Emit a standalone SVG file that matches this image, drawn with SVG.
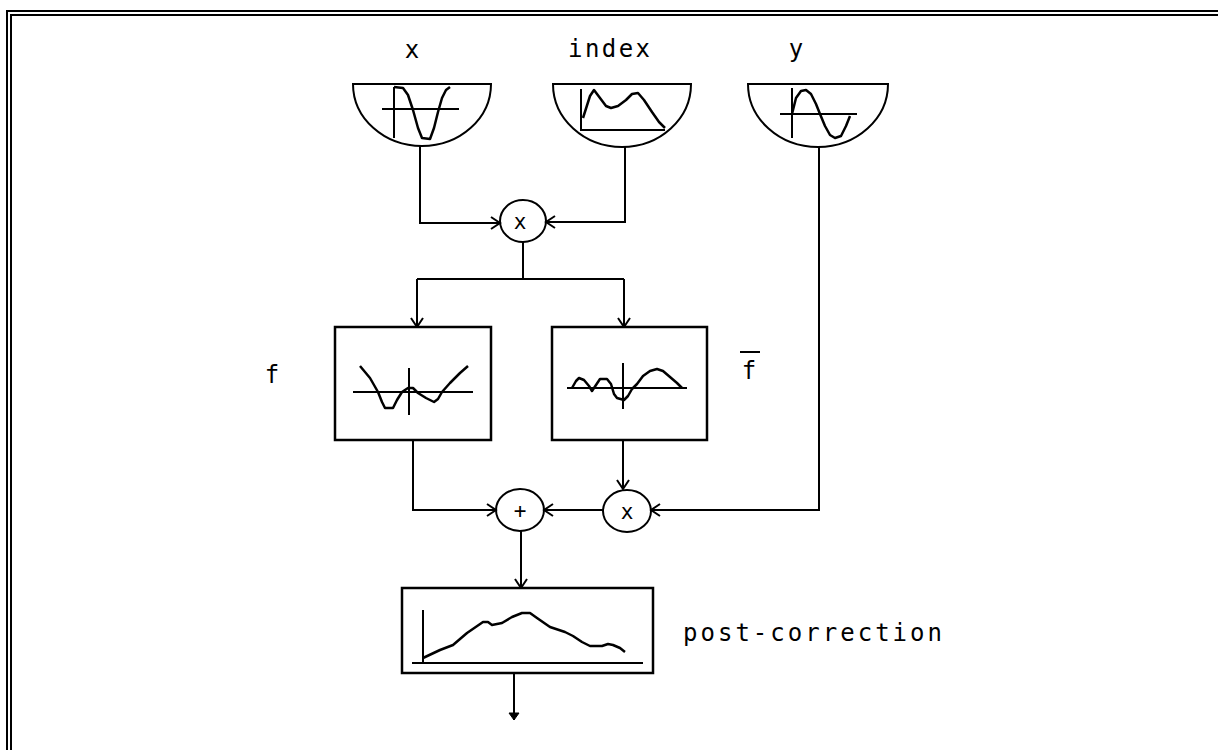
<svg xmlns="http://www.w3.org/2000/svg" width="1218" height="750" viewBox="0 0 1218 750">
<style>
.ln{fill:none;stroke:#000;stroke-width:2}
.thin{fill:none;stroke:#000;stroke-width:2.5;stroke-linejoin:round}
.box{fill:#fff;stroke:#000;stroke-width:2.5}
.lbl{font-family:"DejaVu Sans Mono","Liberation Mono",monospace;font-size:24px;fill:#000}
.op{font-family:"DejaVu Sans Mono","Liberation Mono",monospace;font-size:21px;fill:#000;text-anchor:middle}
</style>
<defs>
<marker id="arr" markerUnits="userSpaceOnUse" markerWidth="20" markerHeight="20" refX="0" refY="0" viewBox="-12 -10 14 20" orient="auto">
<path d="M-9,-6 L0,0 L-9,6" fill="none" stroke="#000" stroke-width="2"/>
</marker>
<marker id="sol" markerUnits="userSpaceOnUse" markerWidth="20" markerHeight="20" refX="0" refY="0" viewBox="-12 -10 14 20" orient="auto">
<path d="M-7,-5 L0,0 L-7,5 Z" fill="#000" stroke="#000" stroke-width="1"/>
</marker>
</defs>
<rect width="1218" height="750" fill="#fff"/>
<g id="frame">
<rect x="7" y="11" width="1230" height="760" class="ln"/>
<rect x="11" y="15" width="1230" height="760" class="ln"/>
</g>
<g id="connectors">
<path class="ln" d="M420,146 V223 H500" marker-end="url(#arr)"/>
<path class="ln" d="M625,147 V222 H546" marker-end="url(#arr)"/>
<path class="ln" d="M523,242 V279"/>
<path class="ln" d="M417,279 H624"/>
<path class="ln" d="M417,279 V327" marker-end="url(#arr)"/>
<path class="ln" d="M624,279 V327" marker-end="url(#arr)"/>
<path class="ln" d="M413,440 V510 H496" marker-end="url(#arr)"/>
<path class="ln" d="M623,440 V489" marker-end="url(#arr)"/>
<path class="ln" d="M819,147 V510 H651" marker-end="url(#arr)"/>
<path class="ln" d="M603,510 H544" marker-end="url(#arr)"/>
<path class="ln" d="M521,531 V588" marker-end="url(#arr)"/>
<path class="ln" d="M514,673 V720" marker-end="url(#sol)"/>
</g>
<g id="node-x">
<text class="lbl" x="412" y="58" text-anchor="middle">x</text>
<path class="ln" d="M353,84 H491 A69,62 0 0 1 353,84 Z"/>
<path class="ln" d="M394,87 V138 M382,109 H459"/>
<path class="thin" d="M394,87 L403,88 L408,95 L413,110 L418,128 L422,138 L430,139 L434,128 L438,112 L442,98 L446,90 L450,87"/>
</g>
<g id="node-index">
<text class="lbl" x="568" y="57" textLength="82" lengthAdjust="spacing">index</text>
<path class="ln" d="M553,84 H691 A69,63 0 0 1 553,84 Z"/>
<path class="ln" d="M581,89 V130 H665"/>
<path class="thin" d="M583,118 L590,96 L594,90 L600,98 L606,106 L611,108 L618,106 L626,100 L632,94 L638,93 L644,100 L652,112 L659,122 L665,128"/>
</g>
<g id="node-y">
<text class="lbl" x="796" y="57" text-anchor="middle">y</text>
<path class="ln" d="M748,84 H888 A70,63 0 0 1 748,84 Z"/>
<path class="ln" d="M792,88 V138 M780,114 H857"/>
<path class="thin" d="M792,114 L796,98 L801,91 L806,90 L811,94 L816,104 L820,114 L825,126 L830,135 L835,138 L841,136 L846,126 L850,116"/>
</g>
<g id="mul1">
<ellipse class="ln" cx="523" cy="221" rx="23" ry="21"/>
<text class="op" x="520" y="229">x</text>
</g>
<g id="node-f">
<rect class="box" x="335" y="327" width="156" height="113"/>
<path class="ln" d="M353,392 H473 M409,368 V415"/>
<path class="thin" d="M360,366 L370,378 L378,392 L382,402 L385,408 L393,408 L397,400 L402,392 L408,388 L413,388 L418,393 L426,398 L434,402 L438,399 L442,392 L450,383 L460,373 L468,366"/>
<text class="lbl" x="272" y="383" text-anchor="middle">f</text>
</g>
<g id="node-fbar">
<rect class="box" x="552" y="327" width="155" height="113"/>
<path class="ln" d="M567,388 H687 M623,363 V409"/>
<path class="thin" d="M572,388 L576,381 L579,378 L584,380 L589,386 L592,391 L596,385 L600,379 L607,379 L611,384 L614,394 L617,398 L624,400 L628,396 L632,389 L637,384 L643,376 L650,371 L657,369 L663,371 L670,377 L677,383 L682,388"/>
<text class="lbl" x="749" y="379" text-anchor="middle">f</text>
<path class="ln" d="M740,352 H760"/>
</g>
<g id="plus">
<ellipse class="ln" cx="520" cy="510" rx="24" ry="21"/>
<text class="op" x="520" y="518">+</text>
</g>
<g id="mul2">
<ellipse class="ln" cx="627" cy="511" rx="24" ry="21"/>
<text class="op" x="627" y="519">x</text>
</g>
<g id="node-post">
<rect class="box" x="402" y="588" width="251" height="85"/>
<path class="ln" d="M423,610 V663 M412,663 H643"/>
<path class="thin" d="M423,658 L440,650 L453,645 L467,633 L483,622 L488,622 L492,625 L502,623 L512,617 L522,613 L530,613 L537,618 L550,627 L565,632 L573,636 L582,642 L590,646 L602,646 L608,644 L613,645 L620,648 L625,652"/>
<text class="lbl" x="683" y="641" textLength="259" lengthAdjust="spacing">post-correction</text>
</g>
</svg>
